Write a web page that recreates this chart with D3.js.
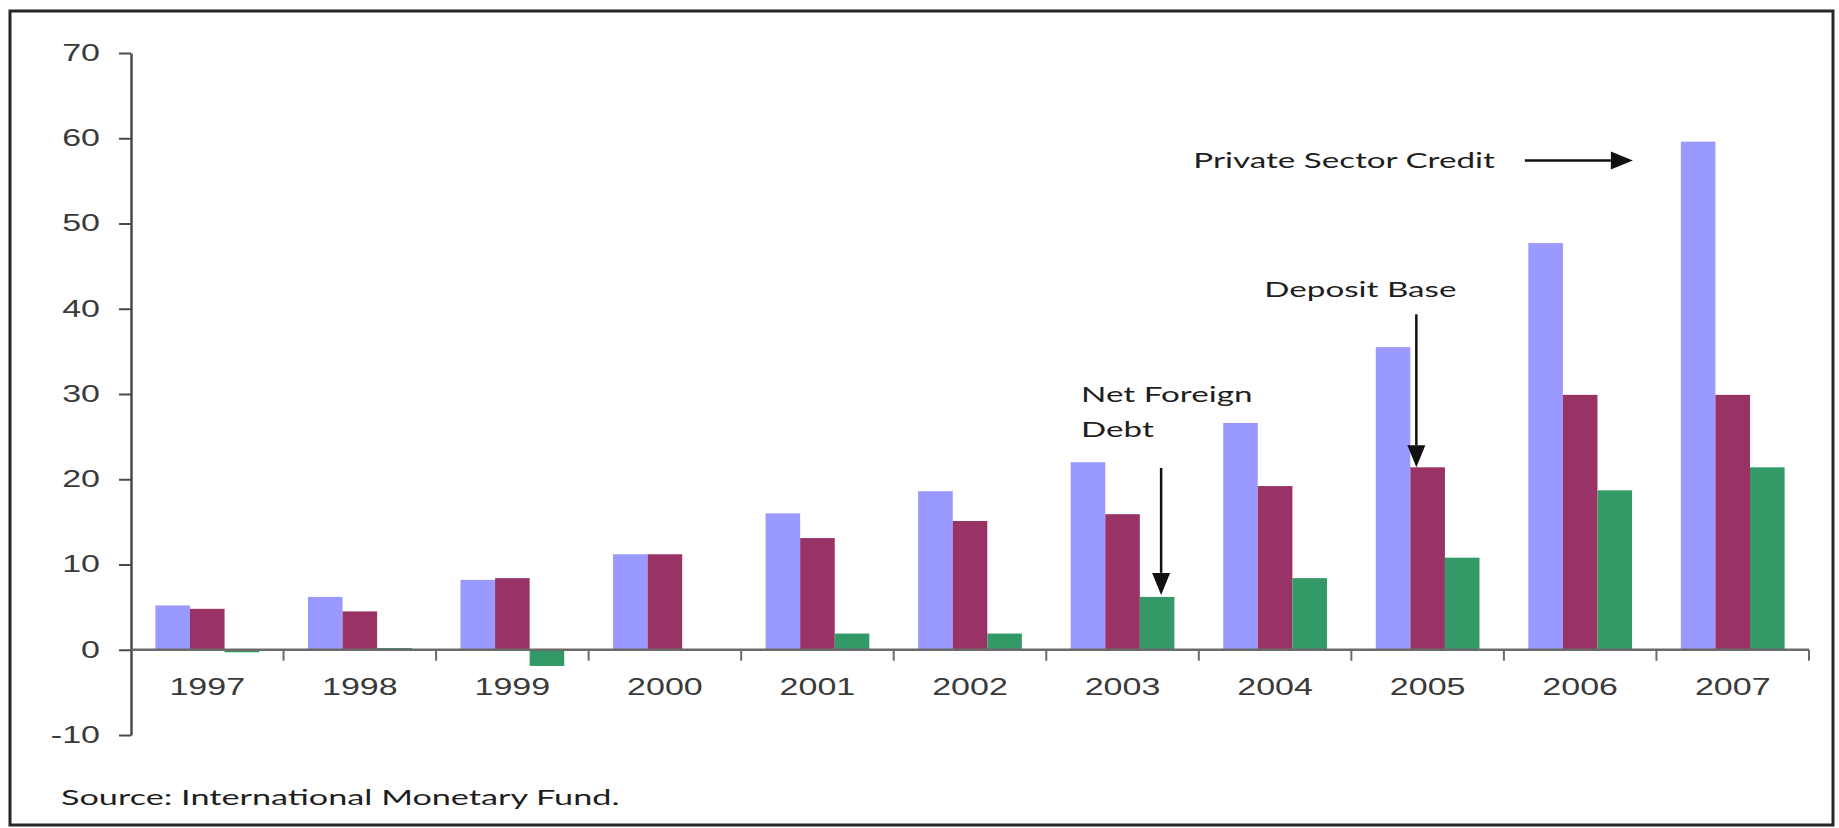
<!DOCTYPE html>
<html><head><meta charset="utf-8">
<script src="https://cdn.jsdelivr.net/npm/d3@7"></script>
<style>body{margin:0;background:#fff}svg{display:block}</style>
</head><body><svg id="c" width="1839" height="828"></svg>
<script>
// ---- data ----
const years = ["1997","1998","1999","2000","2001","2002","2003","2004","2005","2006","2007"];
const seriesNames = ["Private Sector Credit","Deposit Base","Net Foreign Debt"];
const privateSectorCredit = [5.2, 6.2, 8.2, 11.2, 16.0, 18.6, 22.0, 26.6, 35.5, 47.7, 59.6];
const depositBase        = [4.8, 4.5, 8.4, 11.2, 13.1, 15.1, 15.9, 19.2, 21.4, 29.9, 29.9];
const netForeignDebt     = [-0.3, 0.2, -1.9, 0, 1.9, 1.9, 6.2, 8.4, 10.8, 18.7, 21.4];
const yTicks = [-10, 0, 10, 20, 30, 40, 50, 60, 70];
const sourceNote = "Source: International Monetary Fund.";

// ---- layout / style ----
const colors = ["#9999ff", "#993366", "#339966"];
const SX = 1.48;          // horizontal stretch of glyphs in the reference
const SXN = 1.58;
const axisFont = "'Liberation Sans', Arial, sans-serif";
const noteFont = "Lato, 'Open Sans', sans-serif";

const svg = d3.select("#c");
svg.append("rect").attr("x", 10).attr("y", 11).attr("width", 1823).attr("height", 814)
  .attr("fill", "#fff").attr("stroke", "#262626").attr("stroke-width", 3);

const x0 = d3.scaleBand().domain(years).range([131, 1809]).paddingInner(0.32).paddingOuter(0.16);
const x1 = d3.scaleBand().domain(seriesNames).range([0, x0.bandwidth()]);
const y = d3.scaleLinear().domain([-10, 70]).range([735, 53]);

const seriesValues = [privateSectorCredit, depositBase, netForeignDebt];
const rows = years.map((yr, i) => ({ yr, vals: seriesNames.map((s, j) => ({ s, j, v: seriesValues[j][i] })) }));

// bars
const g = svg.append("g");
g.selectAll("g.yr").data(rows).join("g").attr("class", "yr")
  .attr("transform", d => `translate(${x0(d.yr)},0)`)
  .selectAll("rect").data(d => d.vals).join("rect")
  .attr("x", d => x1(d.s))
  .attr("width", x1.bandwidth())
  .attr("y", d => y(Math.max(0, d.v)))
  .attr("height", d => Math.abs(y(d.v) - y(0)))
  .attr("fill", d => colors[d.j]);

// y axis
const yAxis = svg.append("g").attr("transform", "translate(131,0)")
  .call(d3.axisLeft(y).tickValues(yTicks).tickSize(12).tickSizeOuter(0).tickFormat(d => String(d)));
yAxis.select(".domain").attr("stroke", "#4a4a4a").attr("stroke-width", 2.5);
yAxis.selectAll(".tick line").attr("stroke", "#4a4a4a").attr("stroke-width", 2);
yAxis.selectAll(".tick text")
  .attr("x", -31 / SX).attr("transform", `scale(${SX},1)`)
  .attr("font-size", 23).attr("font-family", axisFont).attr("fill", "#3a3a3a");

// x axis
svg.append("line").attr("x1", 131).attr("x2", 1809).attr("y1", y(0)).attr("y2", y(0))
  .attr("stroke", "#6a6a6a").attr("stroke-width", 2.5);
svg.selectAll("line.bt").data(years).join("line").attr("class", "bt")
  .attr("x1", d => x0(d) - x0.step() * x0.paddingOuter() + x0.step())
  .attr("x2", d => x0(d) - x0.step() * x0.paddingOuter() + x0.step())
  .attr("y1", y(0)).attr("y2", y(0) + 11)
  .attr("stroke", "#6a6a6a").attr("stroke-width", 2);
svg.selectAll("text.xl").data(years).join("text").attr("class", "xl")
  .attr("transform", d => `translate(${x0(d) + x0.bandwidth() / 2},${y(0) + 45}) scale(${SX},1)`)
  .attr("text-anchor", "middle").attr("font-size", 23).attr("font-family", axisFont)
  .attr("fill", "#3a3a3a").text(d => d);

// annotations
function note(txt, xx, yy, anchor, sx) {
  svg.append("text").attr("transform", `translate(${xx},${yy}) scale(${sx || SXN},1)`)
    .attr("text-anchor", anchor || "start").attr("font-size", 21)
    .attr("font-family", noteFont).attr("fill", "#1e1e1e").text(txt);
}
function arrow(xa, ya, xb, yb) {
  const ang = Math.atan2(yb - ya, xb - xa), L = 22, Wd = 9;
  const bx = xb - L * Math.cos(ang), by = yb - L * Math.sin(ang);
  svg.append("line").attr("x1", xa).attr("y1", ya).attr("x2", bx).attr("y2", by)
    .attr("stroke", "#111").attr("stroke-width", 2.5);
  const px = -Math.sin(ang) * Wd, py = Math.cos(ang) * Wd;
  svg.append("path").attr("d", `M${xb},${yb}L${bx + px},${by + py}L${bx - px},${by - py}Z`).attr("fill", "#111");
}
const iy = yr => years.indexOf(yr);
// Private Sector Credit
{
  const tipX = x0("2007") + x1(seriesNames[0]) - 48;
  const tipY = y(privateSectorCredit[iy("2007")] - 2.2);
  note("Private Sector Credit", tipX - 138, tipY + 8, "end");
  arrow(tipX - 108, tipY, tipX, tipY);
}
// Deposit Base
{
  const tipX = x0("2005") + x1(seriesNames[1]) + 6;
  const tipY = y(depositBase[iy("2005")]);
  note("Deposit Base", tipX - 152, tipY - 170);
  arrow(tipX, tipY - 153, tipX, tipY);
}
// Net Foreign Debt
{
  const tipX = x0("2003") + x1(seriesNames[2]) + x1.bandwidth() / 2 + 4;
  const tipY = y(netForeignDebt[iy("2003")]) - 2;
  note("Net Foreign", tipX - 80, tipY - 193);
  note("Debt", tipX - 80, tipY - 158);
  arrow(tipX, tipY - 127, tipX, tipY);
}
// source
note(sourceNote, 61, 805, "start", 1.63);
</script></body></html>
